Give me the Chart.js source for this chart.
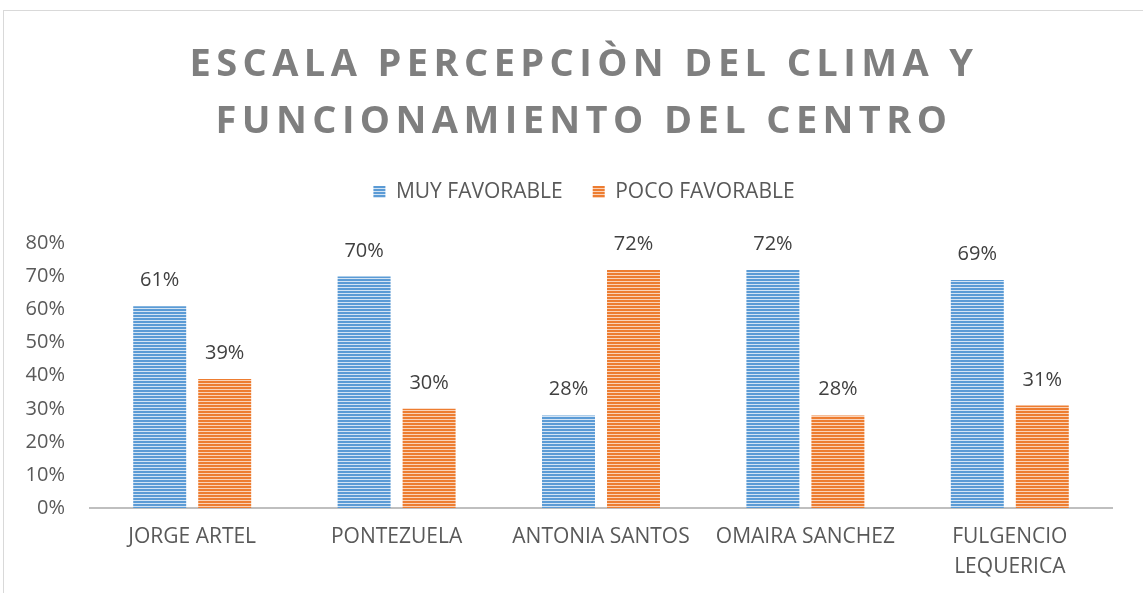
<!DOCTYPE html>
<html>
<head>
<meta charset="utf-8">
<script src="https://cdn.jsdelivr.net/npm/chart.js@4"></script>
<style>
  html, body { margin: 0; padding: 0; background: #fff; }
  #marco { position: absolute; left: 3px; top: 10px; width: 1200px; height: 650px;
           border-left: 1px solid #d9d9d9; border-top: 1px solid #d9d9d9; }
  #grafico { position: absolute; left: 0; top: 0; }
</style>
</head>
<body>
<div id="marco"></div>
<canvas id="grafico" width="1143" height="593"></canvas>
<script>
// Datos del gráfico
const centros = ['JORGE ARTEL', 'PONTEZUELA', 'ANTONIA SANTOS', 'OMAIRA SANCHEZ', ['FULGENCIO', 'LEQUERICA']];
const muyFavorable = [61, 70, 28, 72, 69];
const pocoFavorable = [39, 30, 72, 28, 31];
const nombresSeries = ['MUY FAVORABLE', 'POCO FAVORABLE'];
const tituloLineas = ['ESCALA PERCEPCIÒN DEL CLIMA Y', 'FUNCIONAMIENTO DEL CENTRO'];

const FUENTE = "'Open Sans', sans-serif";

// Relleno rayado horizontal (como el patrón de Excel)
function rayado(oscuro, claro) {
    const c = document.createElement('canvas');
    c.width = 4; c.height = 3;
    const x = c.getContext('2d');
    x.fillStyle = claro;
    x.fillRect(0, 0, 4, 3);
    x.fillStyle = oscuro;
    x.fillRect(0, 0, 4, 2);
    return x.createPattern(c, 'repeat');
}

const ctx = document.getElementById('grafico').getContext('2d');
const azul = rayado('#5b9bd5', '#d4e4f4');
const naranja = rayado('#ed7d31', '#fad3b9');

// Etiquetas de valor encima de cada barra
const etiquetasValor = {
    id: 'etiquetasValor',
    afterDatasetsDraw(chart) {
        const c = chart.ctx;
        c.save();
        c.font = '20px ' + FUENTE;
        c.fillStyle = '#404040';
        c.textAlign = 'center';
        c.textBaseline = 'alphabetic';
        chart.data.datasets.forEach((ds, i) => {
            chart.getDatasetMeta(i).data.forEach((barra, j) => {
                c.fillText(ds.data[j] + '%', barra.x, barra.y - 20);
            });
        });
        c.restore();
    }
};

// Espaciado de letras del título y hueco bajo la leyenda
const ajustes = {
    id: 'ajustes',
    beforeLayout(chart) {
        const ley = chart.legend;
        if (ley && !ley._ajustado) {
            const fitOrig = ley.fit;
            ley.fit = function () { fitOrig.call(this); this.height += 31; };
            ley._ajustado = true;
        }
    },
    beforeDraw(chart) {
        const t = chart.titleBlock;
        if (t && !t._ajustado) {
            const drawOrig = t.draw;
            t.draw = function () {
                chart.ctx.save();
                chart.ctx.letterSpacing = '5.4px';
                drawOrig.apply(this, arguments);
                chart.ctx.restore();
            };
            t._ajustado = true;
        }
    }
};

new Chart(ctx, {
    type: 'bar',
    data: {
        labels: centros,
        datasets: [{
            label: nombresSeries[0],
            data: muyFavorable,
            backgroundColor: azul,
            borderWidth: 0
        }, {
            label: nombresSeries[1],
            data: pocoFavorable,
            backgroundColor: naranja,
            borderWidth: 0
        }]
    },
    options: {
        responsive: false,
        animation: false,
        devicePixelRatio: 1,
        categoryPercentage: 0.636,
        barPercentage: 0.815,
        layout: { padding: { top: 0, left: 25, right: 0, bottom: 0 } },
        plugins: {
            title: {
                display: true,
                text: tituloLineas,
                color: '#7f7f7f',
                font: { family: FUENTE, size: 38, weight: 'bold', lineHeight: 1.52 },
                padding: { top: 36, bottom: 0 }
            },
            legend: {
                position: 'top',
                labels: {
                    color: '#595959',
                    font: { family: FUENTE, size: 21 },
                    boxWidth: 12,
                    boxHeight: 12,
                    padding: 30
                }
            },
            tooltip: { enabled: false }
        },
        scales: {
            x: {
                grid: { display: false, drawTicks: false },
                border: { display: true, color: '#bfbfbf', width: 2 },
                ticks: {
                    color: '#595959',
                    font: { family: FUENTE, size: 21, lineHeight: 1.43 },
                    padding: 14,
                    maxRotation: 0,
                    autoSkip: false
                },
                afterFit(scale) { scale.height = 85; }
            },
            y: {
                min: 0,
                max: 80,
                grid: { display: false, drawTicks: false },
                border: { display: false },
                ticks: {
                    stepSize: 10,
                    color: '#595959',
                    font: { family: FUENTE, size: 20 },
                    padding: 25,
                    callback: v => v + '%'
                },
                afterFit(scale) { scale.width = 65; }
            },
            derecha: {
                position: 'right',
                display: true,
                grid: { display: false, drawTicks: false },
                border: { display: false },
                ticks: { display: false },
                afterFit(scale) { scale.width = 31; }
            }
        }
    },
    plugins: [etiquetasValor, ajustes]
});
</script>
</body>
</html>
